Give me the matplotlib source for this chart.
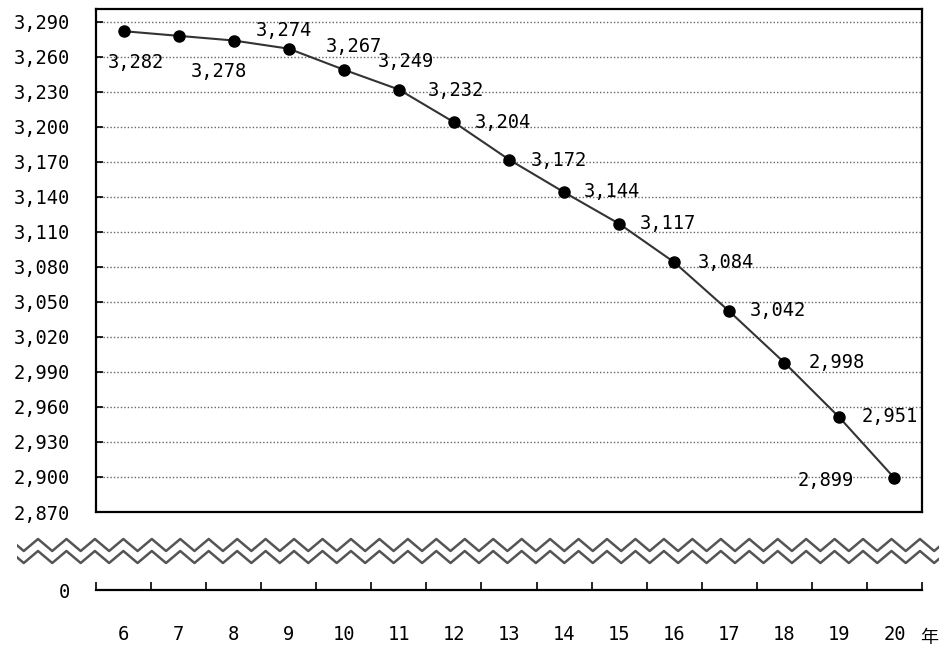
import numpy as np
import matplotlib
matplotlib.use("Agg")
from matplotlib import pyplot as plt

plt.rcParams['font.family'] = ['DejaVu Sans Mono', 'Noto Sans CJK JP']

# data
years = [6, 7, 8, 9, 10, 11, 12, 13, 14, 15, 16, 17, 18, 19, 20]
values = [3282, 3278, 3274, 3267, 3249, 3232, 3204, 3172, 3144, 3117,
          3084, 3042, 2998, 2951, 2899]
y_ticks = list(range(2870, 3291, 30))
# label offsets in pixels (dx, dy) relative to each point
label_offsets = [(12, -31), (40, -36), (50, 10), (65, 2), (62, 8), (57, -1),
                 (49, 0), (50, -1), (48, 1), (49, 0), (52, 0), (49, 1),
                 (52, 0), (50, 1), (-69, -2)]

W, H = 939, 646
fig = plt.figure(figsize=(W / 100, H / 100), dpi=100)
fs = 13.5

# main plot
ax = fig.add_axes([96 / W, 1 - 512 / H, 826 / W, 503 / H])
ax.plot(years, values, color='#333333', lw=1.5, marker='o', ms=8,
        mfc='black', mec='black', zorder=3)
ax.set_xlim(5.5, 20.5)
ax.set_ylim(2870, 3301)
ax.set_yticks(y_ticks)
ax.set_yticklabels(["{:,}".format(v) for v in y_ticks], fontsize=fs)
ax.tick_params(axis='y', direction='in', length=5, width=1.2, pad=19)
ax.tick_params(axis='x', length=0, labelbottom=False)
for v in y_ticks[1:]:
    ax.axhline(v, color='#666666', lw=1, ls=(0, (1, 1.5)), zorder=1)
for s in ax.spines.values():
    s.set_linewidth(1.6)
for x, v, (dx, dy) in zip(years, values, label_offsets):
    ax.annotate("{:,}".format(v), (x, v), xytext=(dx, dy),
                textcoords='offset pixels', ha='center', va='center',
                fontsize=fs, zorder=4)

# lower axis with 0 and year labels
ax2 = fig.add_axes([96 / W, 1 - 590 / H, 826 / W, 0.04])
ax2.set_xlim(5.5, 20.5)
ax2.set_ylim(0, 1)
for s in ['top', 'right', 'left']:
    ax2.spines[s].set_visible(False)
ax2.spines['bottom'].set_linewidth(1.6)
ax2.patch.set_alpha(0)
ax2.set_xticks(np.arange(5.5, 21, 1))
ax2.set_xticklabels([])
ax2.tick_params(axis='x', which='major', direction='in', length=6, width=1.2)
ax2.set_xticks(years, minor=True)
ax2.set_xticklabels([str(y) for y in years], minor=True, fontsize=fs)
ax2.tick_params(axis='x', which='minor', length=0, pad=25)
ax2.set_yticks([0])
ax2.set_yticklabels(['0'], fontsize=fs)
ax2.tick_params(axis='y', length=0, pad=19)
fig.text(938 / W, 1 - 638 / H, '年', fontsize=13, ha='right', va='center',
         family='Noto Sans CJK JP')

# axis break zigzag, drawn in pixel coordinates from x=17 to the right edge
axz = fig.add_axes([17 / W, 0, 1 - 17 / W, 1])
axz.set_xlim(17, W)
axz.set_ylim(H, 0)
axz.axis('off')
axz.patch.set_alpha(0)
period = 28.45
zx = np.arange(38 - 28 * period, W + period, period / 2)
zy = np.where(np.round((zx - 38) / (period / 2)) % 2 == 0, 539, 551)
for off in (0, 12):
    axz.plot(zx, zy + off, color='#555555', lw=1.8, clip_on=True)

fig.savefig('out.png', dpi=100)
